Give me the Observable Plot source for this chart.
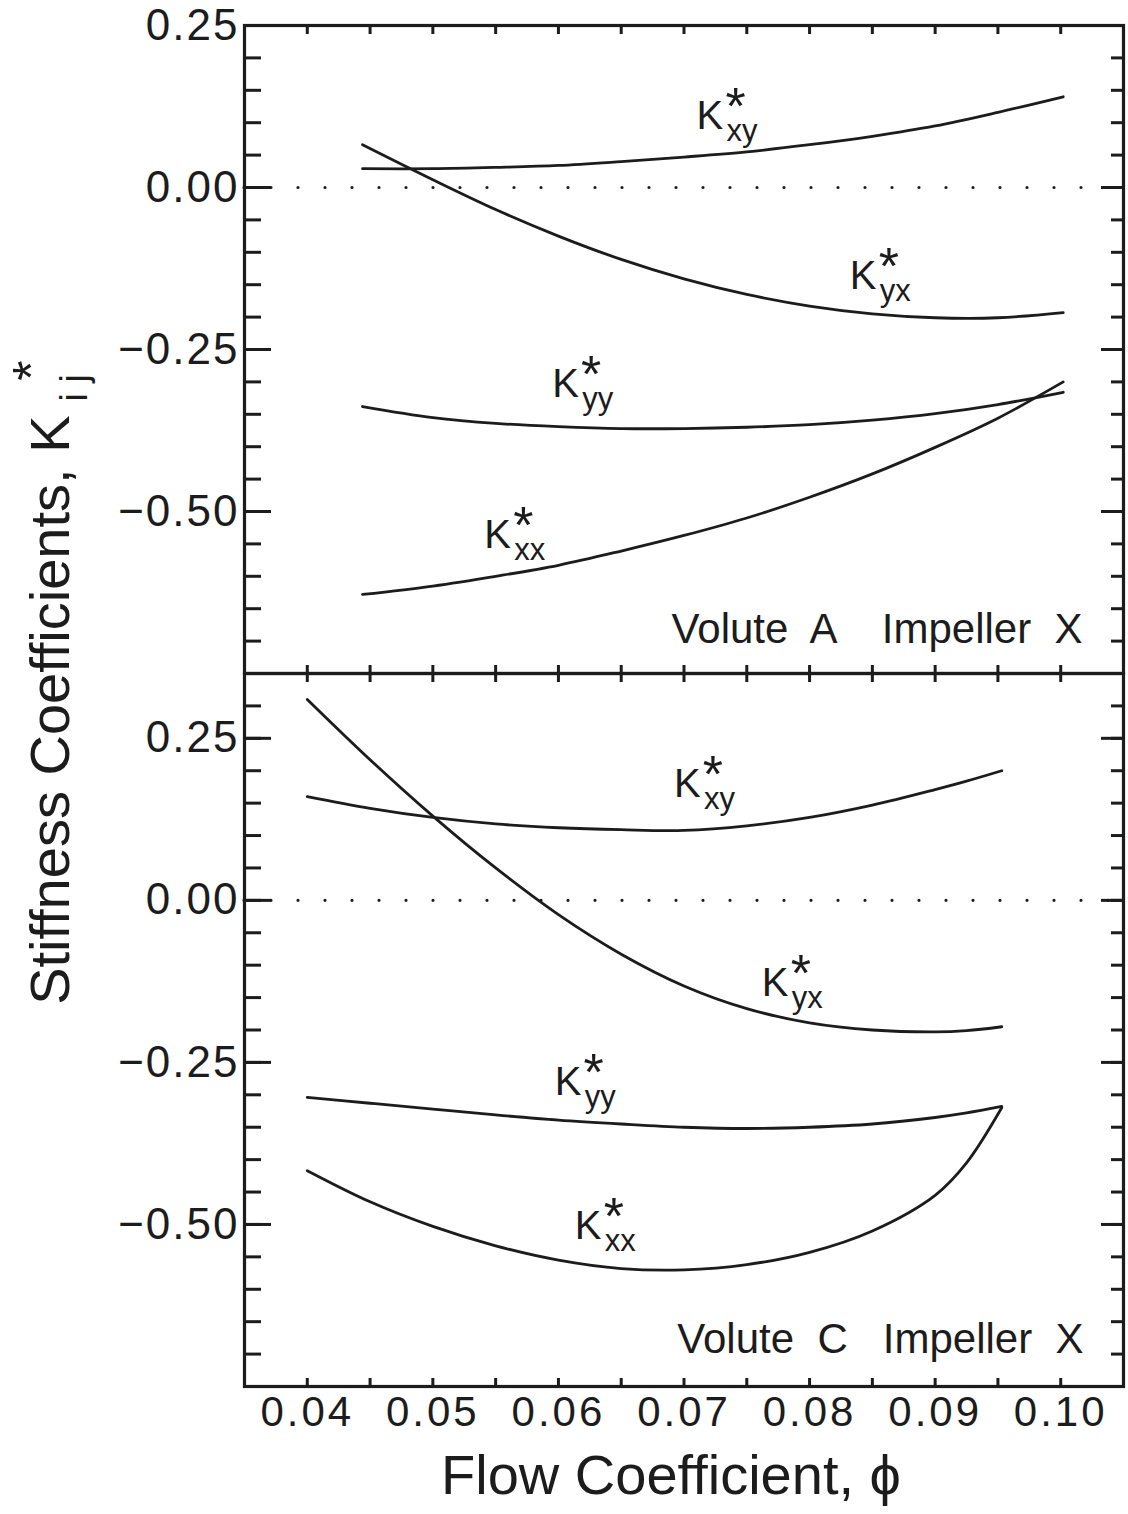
<!DOCTYPE html>
<html><head><meta charset="utf-8">
<script src="https://cdn.jsdelivr.net/npm/d3@7"></script>
<script src="https://cdn.jsdelivr.net/npm/@observablehq/plot@0.6"></script>
<style>
body{margin:0;background:#fff;}
#chart{position:relative;width:1128px;height:1514px;}
#chart svg{display:block;}
#chart g[aria-label="x-axis tick label"] text{letter-spacing:3px;}
#chart g[aria-label="y-axis tick label"] text{letter-spacing:2px;}
</style></head><body><div id="chart"></div>
<script>
// ---------- data ----------
// Panel A: Volute A, Impeller X
const phiA = [0.0444, 0.05, 0.055, 0.06, 0.065, 0.07, 0.075, 0.08, 0.085, 0.09, 0.095, 0.1002];
const A_Kxy = [0.029, 0.029, 0.031, 0.034, 0.040, 0.047, 0.055, 0.066, 0.079, 0.095, 0.116, 0.140];
const A_Kyx = [0.066, 0.012, -0.034, -0.075, -0.111, -0.141, -0.165, -0.183, -0.195, -0.201, -0.201, -0.193];
const A_Kyy = [-0.338, -0.355, -0.364, -0.369, -0.372, -0.372, -0.370, -0.366, -0.359, -0.349, -0.335, -0.316];
const A_Kxx = [-0.628, -0.615, -0.600, -0.583, -0.561, -0.537, -0.510, -0.478, -0.442, -0.401, -0.356, -0.300];
// Panel C: Volute C, Impeller X
const phiC = [0.04, 0.045, 0.05, 0.055, 0.06, 0.065, 0.07, 0.075, 0.08, 0.085, 0.09, 0.0925, 0.0953];
const C_Kxy = [0.160, 0.142, 0.128, 0.118, 0.112, 0.109, 0.108, 0.115, 0.128, 0.147, 0.171, 0.184, 0.200];
const C_Kyx = [0.310, 0.217, 0.130, 0.050, -0.022, -0.083, -0.132, -0.167, -0.189, -0.200, -0.203, -0.201, -0.195];
const C_Kyy = [-0.304, -0.313, -0.322, -0.331, -0.339, -0.345, -0.350, -0.352, -0.350, -0.345, -0.335, -0.328, -0.318];
const C_Kxx = [-0.417, -0.465, -0.503, -0.533, -0.555, -0.568, -0.570, -0.562, -0.543, -0.510, -0.455, -0.405, -0.320];

const seriesSubs = ["xy", "yx", "yy", "xx"];
// curve label anchors (phi, K) for each series
const labelPhiA = [0.0710, 0.0832, 0.0595, 0.0541];
const labelKA = [0.091, -0.156, -0.324, -0.556];
const labelPhiC = [0.0692, 0.0762, 0.0597, 0.0613];
const labelKC = [0.159, -0.148, -0.301, -0.522];

// axes
const xDomain = [0.035, 0.105];
const xLabelTicks = [0.04, 0.05, 0.06, 0.07, 0.08, 0.09, 0.10];
const xAllTicks = [0.04, 0.045, 0.05, 0.055, 0.06, 0.065, 0.07, 0.075, 0.08, 0.085, 0.09, 0.095, 0.10];
const yDomainA = [-0.75, 0.25];
const yDomainC = [-0.75, 0.35];
const yLabelTicks = [0.25, 0.00, -0.25, -0.50];
const yMajorTicks = [0.25, 0.00, -0.25, -0.50, -0.75];
const yMinorTicksA = [0.25, 0.20, 0.15, 0.10, 0.05, 0, -0.05, -0.10, -0.15, -0.20, -0.25, -0.30, -0.35, -0.40, -0.45, -0.50, -0.55, -0.60, -0.65, -0.70, -0.75];
const yMinorTicksC = [0.35, 0.30, ...yMinorTicksA];

const panelTextA = "Volute  A    Impeller  X";
const panelTextC = "Volute  C   Impeller  X";
const xTitle = "Flow Coefficient, \u03D5";
const yTitle = "Stiffness Coefficients, K";

// ---------- build tables ----------
function table(phi, cols) {
  const rows = [];
  cols.forEach((vals, j) => vals.forEach((v, i) => rows.push({series: seriesSubs[j], phi: phi[i], k: v})));
  return rows;
}
const rowsA = table(phiA, [A_Kxy, A_Kyx, A_Kyy, A_Kxx]);
const rowsC = table(phiC, [C_Kxy, C_Kyx, C_Kyy, C_Kxx]);
const labelsA = seriesSubs.map((s, i) => ({sub: s, phi: labelPhiA[i], k: labelKA[i]}));
const labelsC = seriesSubs.map((s, i) => ({sub: s, phi: labelPhiC[i], k: labelKC[i]}));

const FONT = "'Liberation Sans', Arial, sans-serif";
const INK = "#1c1c1c";
const fmt = d => d.toFixed(2).replace("-", "\u2212");

function curveLabels(data) {
  return [
    Plot.text(data, {x: "phi", y: "k", text: d => "K", textAnchor: "start", lineAnchor: "bottom", fontSize: 40, fill: INK}),
    Plot.text(data, {x: "phi", y: "k", text: d => "*", textAnchor: "middle", lineAnchor: "bottom", fontSize: 52, dx: 39, dy: -5, fill: INK}),
    Plot.text(data, {x: "phi", y: "k", text: "sub", textAnchor: "start", lineAnchor: "bottom", fontSize: 31, dx: 30, dy: 12, fill: INK})
  ];
}

function yAxes(minor) {
  return [
    Plot.axisY({anchor: "left", ticks: minor, tickSize: -17, tickFormat: () => "", label: null, strokeWidth: 3, stroke: INK}),
    Plot.axisY({anchor: "left", ticks: yMajorTicks, tickSize: -27, tickFormat: () => "", label: null, strokeWidth: 3, stroke: INK}),
    Plot.axisY({anchor: "left", ticks: yLabelTicks, tickSize: 0, tickPadding: 5, tickFormat: fmt, label: null, fontSize: 44, fill: INK}),
    Plot.axisY({anchor: "right", ticks: minor, tickSize: -13, tickFormat: () => "", label: null, strokeWidth: 3, stroke: INK}),
    Plot.axisY({anchor: "right", ticks: yMajorTicks, tickSize: -23, tickFormat: () => "", label: null, strokeWidth: 3, stroke: INK})
  ];
}

function lines(rows) {
  return [
    Plot.ruleY([0], {stroke: INK, strokeWidth: 3.2, strokeDasharray: "0,27", strokeLinecap: "round"}),
    Plot.line(rows, {x: "phi", y: "k", z: "series", curve: "catmull-rom", stroke: INK, strokeWidth: 2.8})
  ];
}

const topPlot = Plot.plot({
  width: 1128, height: 673,
  marginTop: 25, marginBottom: 0, marginLeft: 244, marginRight: 5,
  style: {fontFamily: FONT, overflow: "visible", background: "transparent"},
  x: {domain: xDomain},
  y: {domain: yDomainA},
  marks: [
    ...lines(rowsA),
    ...curveLabels(labelsA),
    Plot.text([panelTextA], {text: d => d, frameAnchor: "bottom-right", textAnchor: "end", lineAnchor: "bottom", dx: -41, dy: -31, fontSize: 42, fill: INK}),
    Plot.text([yTitle], {text: d => d, frameAnchor: "top-left", rotate: -90, textAnchor: "end", lineAnchor: "bottom", fontSize: 56, dx: -176, dy: 390, fill: INK}),
    Plot.text(["*"], {text: d => d, frameAnchor: "top-left", rotate: -90, textAnchor: "middle", lineAnchor: "bottom", fontSize: 52, dx: -196, dy: 345, fill: INK}),
    Plot.text(["i j"], {text: d => d, frameAnchor: "top-left", rotate: -90, textAnchor: "start", lineAnchor: "bottom", fontSize: 38, dx: -158, dy: 376, fill: INK}),
    Plot.axisX({anchor: "top", ticks: xAllTicks, tickSize: -8, tickFormat: () => "", label: null, strokeWidth: 3, stroke: INK}),
    Plot.axisX({anchor: "bottom", ticks: xAllTicks, tickSize: -8, tickFormat: () => "", label: null, strokeWidth: 3, stroke: INK}),
    ...yAxes(yMinorTicksA),
    Plot.frame({stroke: INK, strokeWidth: 3.2})
  ]
});

const bottomPlot = Plot.plot({
  width: 1128, height: 841,
  marginTop: 0, marginBottom: 128, marginLeft: 244, marginRight: 5,
  style: {fontFamily: FONT, overflow: "visible", background: "transparent"},
  x: {domain: xDomain},
  y: {domain: yDomainC},
  marks: [
    ...lines(rowsC),
    ...curveLabels(labelsC),
    Plot.text([panelTextC], {text: d => d, frameAnchor: "bottom-right", textAnchor: "end", lineAnchor: "bottom", dx: -40, dy: -34, fontSize: 42, fill: INK}),
    Plot.text([xTitle], {text: d => d, frameAnchor: "bottom", textAnchor: "middle", lineAnchor: "bottom", dx: -13, dy: 107, fontSize: 56, fill: INK}),
    Plot.axisX({anchor: "top", ticks: xAllTicks, tickSize: -8, tickFormat: () => "", label: null, strokeWidth: 3, stroke: INK}),
    Plot.axisX({anchor: "bottom", ticks: xAllTicks, tickSize: -8, tickFormat: () => "", label: null, strokeWidth: 3, stroke: INK}),
    Plot.axisX({anchor: "bottom", ticks: xLabelTicks, tickSize: 0, tickPadding: 10, tickFormat: d => d.toFixed(2), label: null, fontSize: 42, fill: INK}),
    ...yAxes(yMinorTicksC),
    Plot.frame({stroke: INK, strokeWidth: 3.2})
  ]
});

const chart = document.getElementById("chart");
chart.appendChild(topPlot);
chart.appendChild(bottomPlot);
</script></body></html>
